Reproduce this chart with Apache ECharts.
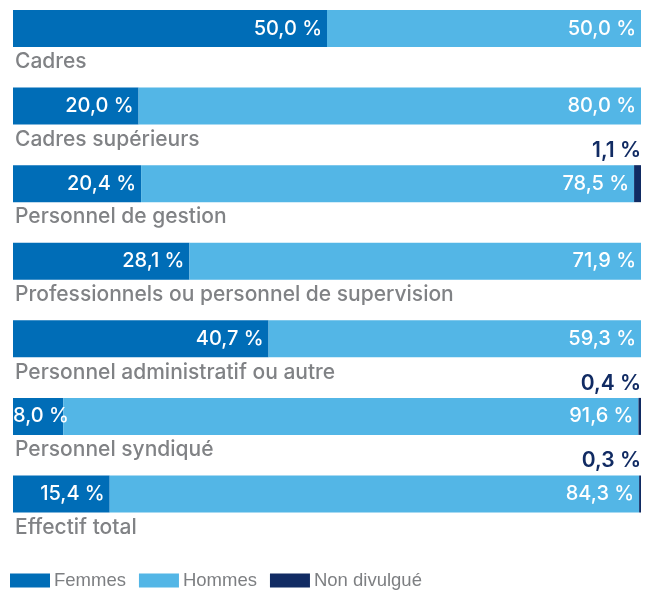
<!DOCTYPE html>
<html>
<head>
<meta charset="utf-8">
<script src="https://cdn.jsdelivr.net/npm/echarts@6/dist/echarts.min.js"></script>
<style>
  html, body { margin: 0; padding: 0; background: #ffffff; }
  #chart { width: 649px; height: 590px; }
</style>
</head>
<body>
<div id="chart"></div>
<script>
// Effectif par catégorie d'emploi, réparti selon le genre (%)
const categories = [
  'Cadres',
  'Cadres supérieurs',
  'Personnel de gestion',
  'Professionnels ou personnel de supervision',
  'Personnel administratif ou autre',
  'Personnel syndiqué',
  'Effectif total'
];
const femmes = [50.0, 20.0, 20.4, 28.1, 40.7, 8.0, 15.4];
const hommes = [50.0, 80.0, 78.5, 71.9, 59.3, 91.6, 84.3];
const nonDivulgue = [null, null, 1.1, null, null, 0.4, 0.3];

const seriesNames = ['Femmes', 'Hommes', 'Non divulgué'];
const colors = ['#006db7', '#53b6e6', '#112b63'];

const FONT = 'Inter';
const fmt = v => v.toFixed(1).replace('.', ',') + ' %';

const chart = echarts.init(document.getElementById('chart'), null, { renderer: 'canvas' });

const insideLabel = {
  show: true,
  position: 'insideRight',
  distance: 5,
  color: '#ffffff',
  fontFamily: FONT,
  fontSize: 20,
  fontWeight: 500,
  formatter: p => fmt(p.value)
};

// Narrow segments keep their label starting at the bar's left edge
const femmesData = femmes.map(v => v < 10
  ? { value: v, label: { position: 'insideLeft', distance: 0 } }
  : v);

chart.setOption({
  animation: false,
  color: colors,
  grid: { left: 13, right: 8, top: 28.5, height: 465.5, containLabel: false },
  legend: {
    left: 5,
    top: 566,
    itemWidth: 40,
    itemHeight: 14,
    itemGap: 13,
    icon: 'rect',
    textStyle: {
      color: '#7d7f82',
      fontFamily: 'Liberation Sans',
      fontSize: 18.5,
      padding: [0, 0, 0, -1]
    },
    data: seriesNames
  },
  xAxis: {
    type: 'value',
    min: 0,
    max: 100,
    show: false
  },
  yAxis: {
    type: 'category',
    data: categories,
    inverse: true,
    boundaryGap: false,
    axisLine: { show: false },
    axisTick: { show: false },
    splitLine: { show: false },
    axisLabel: {
      inside: true,
      margin: 2,
      align: 'left',
      verticalAlign: 'top',
      padding: [23, 0, 0, 0],
      color: '#808285',
      fontFamily: FONT,
      fontSize: 21,
      fontWeight: 500
    }
  },
  series: [
    {
      name: seriesNames[0],
      type: 'bar',
      stack: 'total',
      barWidth: 37,
      data: femmesData,
      label: insideLabel
    },
    {
      name: seriesNames[1],
      type: 'bar',
      stack: 'total',
      barWidth: 37,
      data: hommes,
      label: insideLabel
    },
    {
      name: seriesNames[2],
      type: 'bar',
      stack: 'total',
      barWidth: 37,
      data: nonDivulgue,
      label: {
        show: true,
        position: ['100%', -4],
        align: 'right',
        verticalAlign: 'bottom',
        color: '#112b63',
        fontFamily: FONT,
        fontSize: 21,
        fontWeight: 600,
        formatter: p => (p.value == null ? '' : fmt(p.value))
      }
    }
  ]
});
</script>
</body>
</html>
